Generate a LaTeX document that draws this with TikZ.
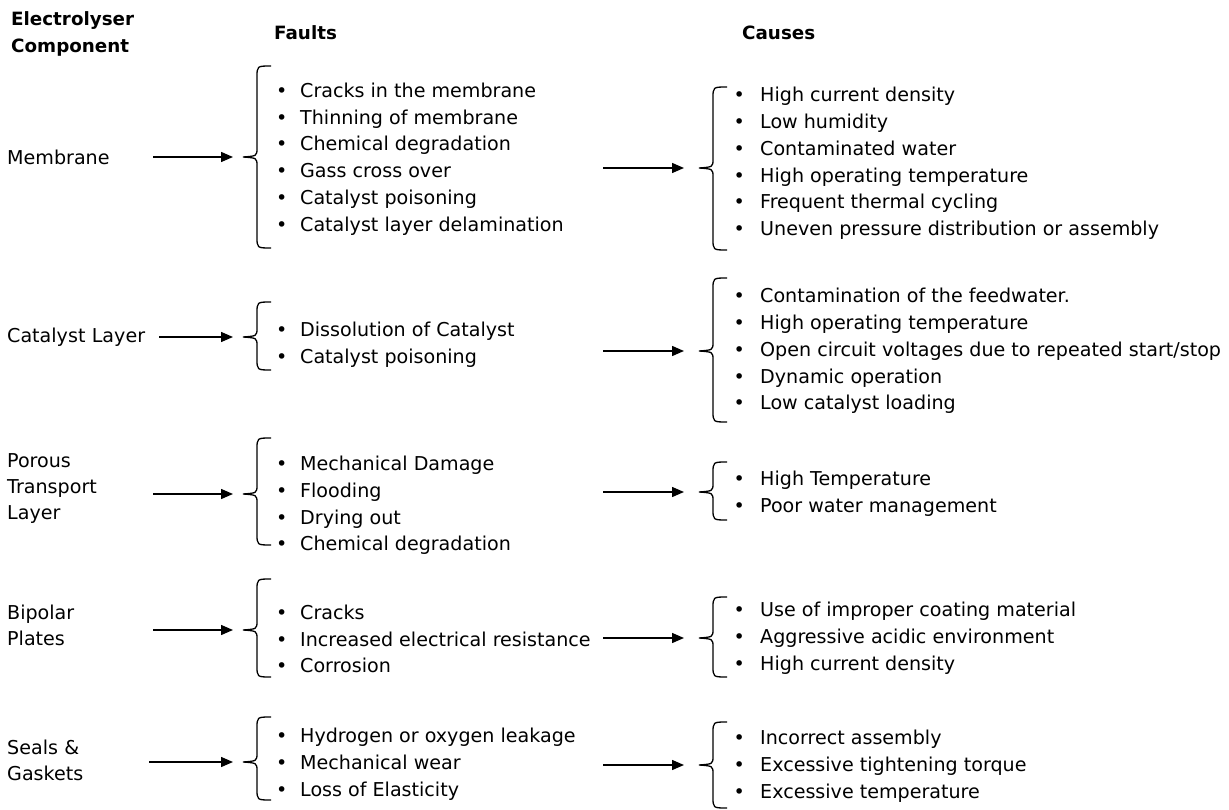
\documentclass[tikz,border=0pt]{standalone}
\usepackage{fontspec}
\setmainfont{DejaVu Sans}
\usetikzlibrary{arrows.meta}

% curly bracket: spine x, top y, tip y, bottom y
\newcommand{\curly}[4]{%
  \draw[curl] (#1+14,#2) .. controls (#1,#2) .. (#1,#2+11) -- (#1,#3-9)
    .. controls (#1,#3-1) .. (#1-14,#3) .. controls (#1,#3+1) .. (#1,#3+9)
    -- (#1,#4-11) .. controls (#1,#4) .. (#1+14,#4);
}
\newcommand{\bl}{\makebox[24pt][l]{\textbullet}}
\newcommand{\bc}{\makebox[26.5pt][l]{\textbullet}}

\begin{document}
\begin{tikzpicture}[x=1pt,y=-1pt]
\tikzstyle{head}=[anchor=west, align=left, inner sep=0pt, font=\fontsize{18.3}{27}\selectfont\bfseries]
\tikzstyle{comp}=[anchor=west, align=left, inner sep=0pt, text width=146pt, font=\fontsize{19.1}{26}\selectfont]
\tikzstyle{list}=[anchor=west, align=left, inner sep=0pt, font=\fontsize{19.1}{26.8}\selectfont]
\tikzstyle{conn}=[line width=1.4pt, -{Triangle[length=12pt,width=10pt]}, shorten >=10pt]
\tikzstyle{curl}=[line width=1.3pt]

\useasboundingbox (0,0) rectangle (1229,810);

\node (h1) at (11,33.5) [head] {Electrolyser\\Component};
\node (h2) at (274,33) [head] {Faults};
\node (h3) at (742,33) [head] {Causes};

% components
\node (mem) at (7,157) [comp] {Membrane};
\node (cat) at (7,337) [comp] {Catalyst Layer};
\node (ptl) at (7,489) [comp] {Porous\\Transport\\Layer};
\node (bip) at (7,625.5) [comp] {Bipolar\\Plates};
\node (sea) at (7,760.5) [comp] {Seals \&\\Gaskets};

% faults
\node (memF) at (276,159) [list] {\bl Cracks in the membrane\\ \bl Thinning of membrane\\ \bl Chemical degradation\\ \bl Gass cross over\\ \bl Catalyst poisoning\\ \bl Catalyst layer delamination};
\node (catF) at (276,345) [list] {\bl Dissolution of Catalyst\\ \bl Catalyst poisoning};
\node (ptlF) at (276,505.5) [list] {\bl Mechanical Damage\\ \bl Flooding\\ \bl Drying out\\ \bl Chemical degradation};
\node (bipF) at (276,639) [list] {\bl Cracks\\ \bl Increased electrical resistance\\ \bl Corrosion};
\node (seaF) at (276,764) [list] {\bl Hydrogen or oxygen leakage\\ \bl Mechanical wear\\ \bl Loss of Elasticity};

% causes
\node (memC) at (733.5,163.5) [list] {\bc High current density\\ \bc Low humidity\\ \bc Contaminated water\\ \bc High operating temperature\\ \bc Frequent thermal cycling\\ \bc Uneven pressure distribution or assembly};
\node (catC) at (733.5,351) [list] {\bc Contamination of the feedwater.\\ \bc High operating temperature\\ \bc Open circuit voltages due to repeated start/stop\\ \bc Dynamic operation\\ \bc Low catalyst loading};
\node (ptlC) at (733.5,493.5) [list] {\bc High Temperature\\ \bc Poor water management};
\node (bipC) at (733.5,638) [list] {\bc Use of improper coating material\\ \bc Aggressive acidic environment\\ \bc High current density};
\node (seaC) at (733.5,766) [list] {\bc Incorrect assembly\\ \bc Excessive tightening torque\\ \bc Excessive temperature};

% brackets
\curly{257}{66}{157}{248}
\curly{257}{302}{337}{370}
\curly{257}{438}{494}{545}
\curly{257}{579}{630}{677}
\curly{257}{717}{762}{800}
\curly{713}{87}{168}{250}
\curly{713}{278}{351}{422}
\curly{713}{462}{492}{520}
\curly{713}{597}{638}{677}
\curly{713}{722}{765}{808}

% bracket tips
\coordinate (memFt) at (243,157);
\coordinate (catFt) at (243,337);
\coordinate (ptlFt) at (243,494);
\coordinate (bipFt) at (243,630);
\coordinate (seaFt) at (243,762);
\coordinate (memCt) at (699,168);
\coordinate (catCt) at (699,351);
\coordinate (ptlCt) at (699,492);
\coordinate (bipCt) at (699,638);
\coordinate (seaCt) at (699,765);

% arrow starts on the causes side
\coordinate (memCs) at (603,168);
\coordinate (catCs) at (603,351);
\coordinate (ptlCs) at (603,492);
\coordinate (bipCs) at (603,638);
\coordinate (seaCs) at (603,765);

\draw[conn] (mem.east) -- (memFt);
\draw[conn, shorten <=6pt] (cat.east) -- (catFt);
\draw[conn] (ptl.east |- ptlFt) -- (ptlFt);
\draw[conn] (bip.east |- bipFt) -- (bipFt);
\draw[conn, shorten <=-4pt] (sea.east |- seaFt) -- (seaFt);

\draw[conn, shorten >=15pt] (memCs) -- (memCt);
\draw[conn, shorten >=15pt] (catCs) -- (catCt);
\draw[conn, shorten >=15pt] (ptlCs) -- (ptlCt);
\draw[conn, shorten >=15pt] (bipCs) -- (bipCt);
\draw[conn, shorten >=15pt] (seaCs) -- (seaCt);
\end{tikzpicture}
\end{document}
